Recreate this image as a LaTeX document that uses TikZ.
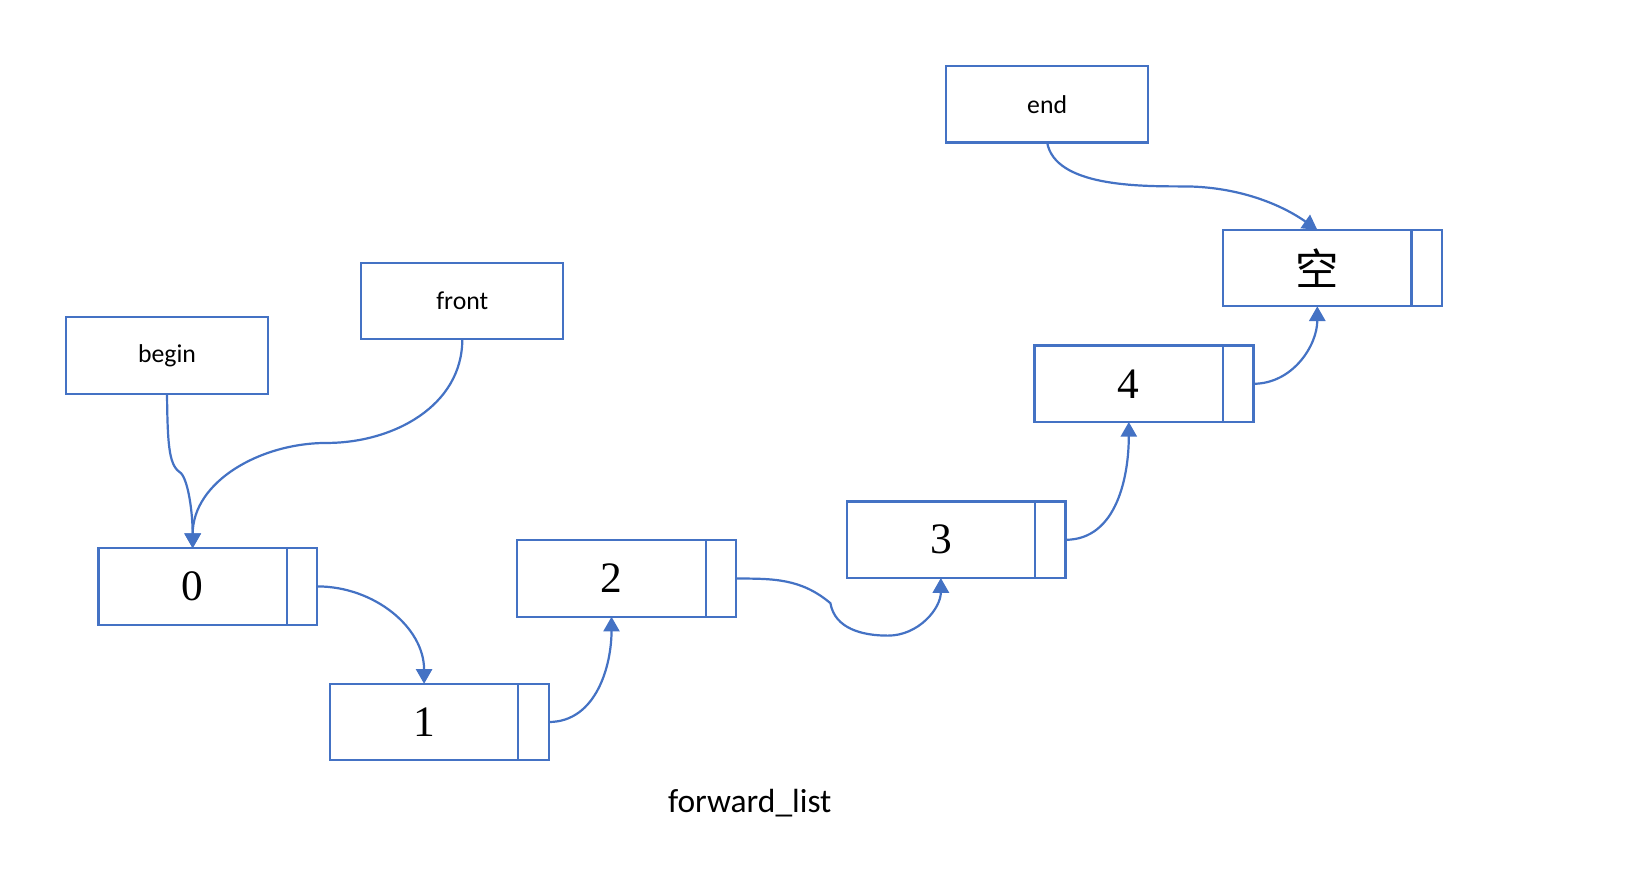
\documentclass[tikz,border=0pt]{standalone}
\usepackage{fontspec}
\setmainfont{Liberation Serif}
\newfontfamily\calibri{Carlito}
\newfontfamily\cjk{Noto Sans CJK SC}
\usetikzlibrary{positioning,arrows.meta}
\definecolor{boxblue}{HTML}{4472C4}

\begin{document}
\begin{tikzpicture}[
  cell/.style={draw=boxblue,line width=0.6pt,minimum width=1.80cm,minimum height=0.73cm,inner sep=0pt,outer sep=0pt,font=\fontsize{11.8}{12}\selectfont},
  link/.style={draw=boxblue,line width=0.6pt,minimum width=0.29cm,minimum height=0.73cm,inner sep=0pt,outer sep=0pt},
  iter/.style={draw=boxblue,line width=0.6pt,minimum width=1.93cm,minimum height=0.73cm,inner sep=0pt,outer sep=0pt,font=\calibri\fontsize{7}{8}\selectfont},
  arr/.style={draw=boxblue,line width=0.6pt,-{Triangle[width=4.4pt,length=4pt]}}]
 \useasboundingbox (0,0) rectangle (15.70,-8.54);
 \node[iter] (begin) at (1.595,-3.395) {begin};
 \node[iter] (front) at (4.415,-2.875) {front};
 \node[iter] (end) at (10.00,-0.995) {end};
 \node[cell] (v0) at (1.84,-5.60) {0};
 \node[link,right=0pt of v0] (p0) {};
 \node[cell] (v1) at (4.05,-6.895) {1};
 \node[link,right=0pt of v1] (p1) {};
 \node[cell] (v2) at (5.84,-5.525) {2};
 \node[link,right=0pt of v2] (p2) {};
 \node[cell] (v3) at (8.985,-5.155) {3};
 \node[link,right=0pt of v3] (p3) {};
 \node[cell] (v4) at (10.78,-3.665) {4};
 \node[link,right=0pt of v4] (p4) {};
 \node[cell] (v5) at (12.58,-2.56) {\cjk 空};
 \node[link,right=0pt of v5] (p5) {};
 \node[font=\calibri\fontsize{9.1}{11}\selectfont] (title) at (7.16,-7.67) {forward\_list};
 \draw[arr] (begin.south) .. controls (1.60,-4.30) and (1.62,-4.45) .. (1.73,-4.52)
   .. controls (1.80,-4.60) and (1.84,-4.90) .. (v0.north);
 \draw[arr] (front.south) to[out=-90,in=0] (3.12,-4.23) to[out=180,in=90] (v0.north);
 \draw[arr] (p0.east) to[out=0,in=90] (v1.north);
 \draw[arr] (p1.east) to[out=0,in=-90] (v2.south);
 \draw[arr] (p2.east) to[out=0,in=140] (7.93,-5.76) to[out=-80,in=180] (8.48,-6.07) to[out=0,in=-90] (v3.south);
 \draw[arr] (p3.east) to[out=0,in=-90] (v4.south);
 \draw[arr] (p4.east) to[out=0,in=-90] (v5.south);
 \draw[arr] (end.south) to[out=-80,in=180,looseness=0.8] (11.30,-1.78) to[out=0,in=145,looseness=0.9] (v5.north);
\end{tikzpicture}
\end{document}
